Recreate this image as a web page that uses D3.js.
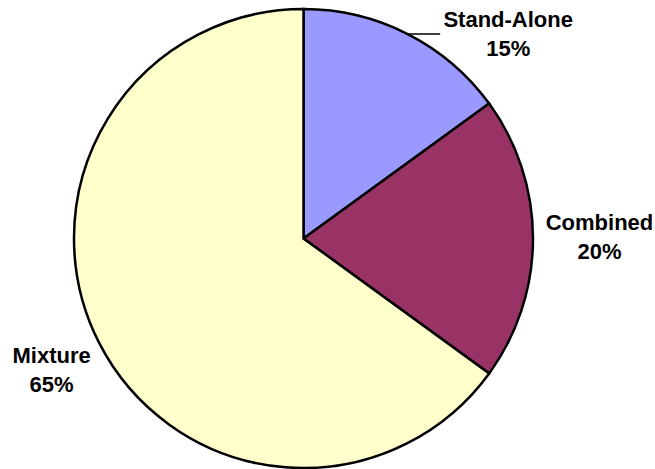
<!DOCTYPE html>
<html>
<head>
<meta charset="utf-8">
<script src="https://cdn.jsdelivr.net/npm/d3@7"></script>
<style>
  html, body { margin: 0; padding: 0; background: #ffffff; }
  svg { display: block; }
  text { font-family: "Liberation Sans", Arial, sans-serif; font-weight: bold; font-size: 22px; fill: #000; }
</style>
</head>
<body>
<svg id="chart" width="655" height="469"></svg>
<script>
// Share of each delivery form (percent)
const categories = ["Stand-Alone", "Combined", "Mixture"];
const shares = [15, 20, 65];
const colors = ["#9999FF", "#993366", "#FFFFCC"];

const width = 655, height = 469;
const cx = 303.5, cy = 238.5, radius = 229.5;

// Label placement: polar position (degrees clockwise from 12 o'clock) around the pie.
// Slices without an override sit on their own mid-angle.
const labelLayout = {
  "Stand-Alone": { angle: 45.3, r: 288, leader: true },
  "Combined": { r: 296 },
  "Mixture": { angle: 242.1, r: 285 }
};

const svg = d3.select("#chart");
const g = svg.append("g").attr("transform", `translate(${cx},${cy})`);

const data = categories.map((c, i) => ({ name: c, value: shares[i], color: colors[i] }));

const pie = d3.pie().value(d => d.value).sort(null);
const arc = d3.arc().innerRadius(0).outerRadius(radius);
const arcs = pie(data);

g.selectAll("path.slice")
  .data(arcs)
  .join("path")
  .attr("class", "slice")
  .attr("d", arc)
  .attr("fill", d => d.data.color)
  .attr("stroke", "#000")
  .attr("stroke-width", 2.5)
  .attr("stroke-linejoin", "miter");

const toXY = (deg, r) => {
  const a = deg * Math.PI / 180;
  return [r * Math.sin(a), -r * Math.cos(a)];
};

arcs.forEach(d => {
  const mid = (d.startAngle + d.endAngle) / 2 * 180 / Math.PI;
  const lay = labelLayout[d.data.name] || {};
  const [lx, ly] = toXY(lay.angle !== undefined ? lay.angle : mid, lay.r || 290);

  if (lay.leader) {
    // short leader from the slice edge toward its label
    const [ax, ay] = toXY(mid, radius);
    g.append("line")
      .attr("x1", ax).attr("y1", ay)
      .attr("x2", lx - 68).attr("y2", ay)
      .attr("stroke", "#000").attr("stroke-width", 1.5);
  }

  const t = g.append("text").attr("text-anchor", "middle");
  t.append("tspan").attr("x", lx).attr("y", ly - 9).text(d.data.name);
  t.append("tspan").attr("x", lx).attr("y", ly + 20).text(d.data.value + "%");
});
</script>
</body>
</html>
